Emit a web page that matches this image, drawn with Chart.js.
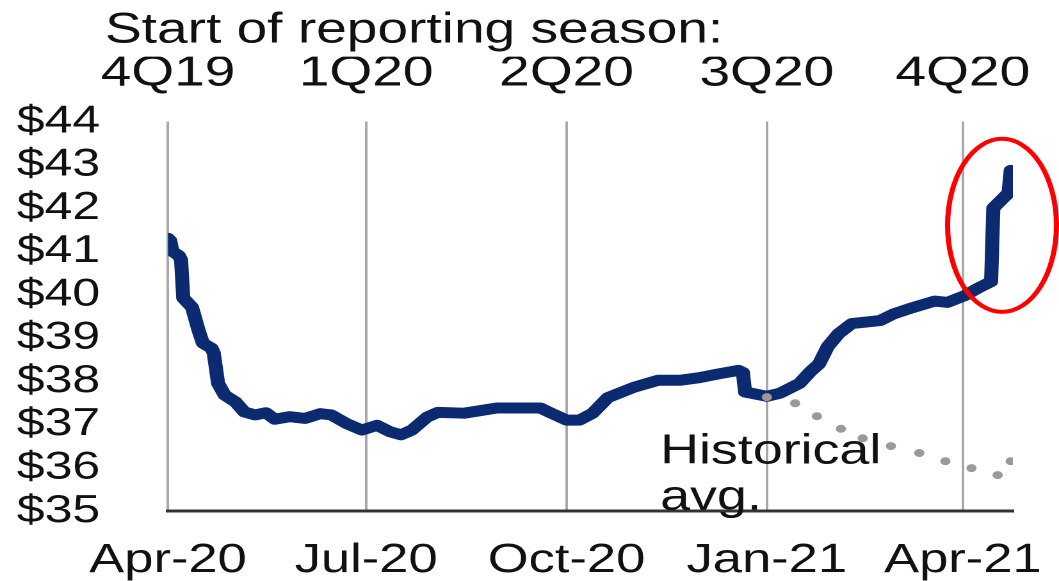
<!DOCTYPE html>
<html><head><meta charset="utf-8">
<script src="https://cdn.jsdelivr.net/npm/chart.js@4.4.1/dist/chart.umd.min.js"></script>
<style>html,body{margin:0;padding:0;background:#fff;overflow:hidden}
#c{position:absolute;left:0;top:0}</style>
</head><body>
<canvas id="c" width="827" height="581" style="width:1059px;height:581px"></canvas>
<script>
// ---- data ----
const epsDates = ['2020-04-01','2020-04-02','2020-04-03','2020-04-06','2020-04-07','2020-04-08','2020-04-12','2020-04-15','2020-04-17','2020-04-21','2020-04-22','2020-04-24','2020-04-27','2020-05-02','2020-05-06','2020-05-11','2020-05-16','2020-05-20','2020-05-27','2020-06-03','2020-06-10','2020-06-15','2020-06-22','2020-06-29','2020-07-06','2020-07-12','2020-07-17','2020-07-22','2020-07-29','2020-08-03','2020-08-15','2020-08-30','2020-09-19','2020-09-24','2020-10-01','2020-10-07','2020-10-13','2020-10-20','2020-11-01','2020-11-12','2020-11-22','2020-12-01','2020-12-10','2020-12-19','2020-12-21','2020-12-22','2021-01-01','2021-01-07','2021-01-16','2021-01-21','2021-01-25','2021-01-29','2021-02-03','2021-02-09','2021-02-22','2021-02-28','2021-03-09','2021-03-19','2021-03-25','2021-04-02','2021-04-08','2021-04-14','2021-04-15','2021-04-19','2021-04-22','2021-04-23'];
const epsValues = [41.3,41.25,41.0,40.9,40.8,39.92,39.71,39.18,38.88,38.76,38.65,37.95,37.68,37.52,37.29,37.22,37.27,37.12,37.18,37.14,37.25,37.22,37.02,36.87,36.98,36.83,36.76,36.87,37.17,37.28,37.26,37.38,37.38,37.26,37.1,37.1,37.26,37.62,37.86,38.02,38.02,38.08,38.17,38.25,38.2,37.75,37.65,37.72,37.95,38.22,38.4,38.8,39.1,39.33,39.4,39.55,39.7,39.85,39.82,39.98,40.15,40.3,42.0,42.2,42.35,42.87];
const histDates = ['2021-01-01','2021-01-14','2021-01-24','2021-02-04','2021-02-14','2021-02-27','2021-03-12','2021-03-24','2021-04-05','2021-04-17','2021-04-23'];
const histValues = [37.63,37.49,37.19,36.9,36.68,36.5,36.34,36.15,35.99,35.83,36.15];
const tickDates = ['2020-04-01','2020-07-01','2020-10-01','2021-01-01','2021-04-01'];
const tickLabels = ['Apr-20','Jul-20','Oct-20','Jan-21','Apr-21'];
const seasonLabels = ['4Q19','1Q20','2Q20','3Q20','4Q20'];
const titleText = 'Start of reporting season:';
const noteLines = ['Historical','avg.'];
const noteDate = '2020-11-13', noteValue = 36.1;
const highlightDate = '2021-04-19', highlightValue = 41.6, highlightDays = 25, highlightRange = 2.0;
const startDate = '2020-04-01', endDate = '2021-04-24';
const yMin = 35, yMax = 44;

const base = Date.parse(startDate + 'T00:00:00Z');
const dayOf = s => (Date.parse(s + 'T00:00:00Z') - base) / 864e5;

Chart.defaults.font.family = '"Liberation Sans", Arial, sans-serif';
Chart.defaults.color = '#111';

const notePlugin = {
  id: 'note',
  afterLayout(chart) {
    if (chart.titleBlock) { chart.titleBlock.left = 82; }
  },
  beforeDatasetsDraw(chart) {
    const {ctx, scales: {x, y}} = chart;
    ctx.save();
    ctx.font = '42px "Liberation Sans", Arial, sans-serif';
    ctx.fillStyle = '#111';
    ctx.textAlign = 'left';
    ctx.textBaseline = 'alphabetic';
    const px = x.getPixelForValue(dayOf(noteDate));
    const py = y.getPixelForValue(noteValue);
    noteLines.forEach((t, i) => ctx.fillText(t, px, py + i * 46));
    ctx.restore();
  },
  afterDraw(chart) {
    const {ctx, scales: {x, y}} = chart;
    const d = dayOf(highlightDate);
    const cx = x.getPixelForValue(d), cy = y.getPixelForValue(highlightValue);
    const rx = x.getPixelForValue(d + highlightDays) - cx;
    const ry = cy - y.getPixelForValue(highlightValue + highlightRange);
    ctx.save();
    ctx.strokeStyle = '#ff0000';
    ctx.lineWidth = 4;
    ctx.beginPath();
    ctx.ellipse(cx, cy, rx, ry, 0, 0, Math.PI * 2);
    ctx.stroke();
    ctx.restore();
  }
};

const setTicks = s => { s.ticks = tickDates.map(d => ({value: dayOf(d)})); };

new Chart(document.getElementById('c'), {
  type: 'line',
  data: {
    datasets: [
      {
        label: 'Historical avg.',
        data: histDates.map((d, i) => ({x: dayOf(d), y: histValues[i]})),
        showLine: false,
        pointRadius: 4,
        pointBorderWidth: 0,
        pointBackgroundColor: '#9a9a9a',
        order: 0
      },
      {
        label: 'EPS',
        data: epsDates.map((d, i) => ({x: dayOf(d), y: epsValues[i]})),
        borderColor: '#0c2a70',
        borderWidth: 11,
        pointRadius: 0,
        tension: 0,
        borderJoinStyle: 'round',
        borderCapStyle: 'round',
        order: 1
      }
    ]
  },
  options: {
    responsive: false,
    animation: false,
    devicePixelRatio: 2,
    layout: {padding: {left: 0, right: 36, top: 0, bottom: 0}},
    plugins: {
      legend: {display: false},
      tooltip: {enabled: false},
      title: {display: true, text: titleText, align: 'start', color: '#111',
        font: {size: 43, weight: 'normal'}, padding: {top: 5, bottom: 0}}
    },
    scales: {
      x: {
        type: 'linear', position: 'bottom', min: 0, max: dayOf(endDate),
        afterBuildTicks: setTicks,
        afterFit: s => { s.height = 70; s.paddingLeft = 0; s.paddingRight = 0; },
        ticks: {callback: (v, i) => tickLabels[i], font: {size: 41}, color: '#111', padding: 25, maxRotation: 0, autoSkip: false},
        grid: {display: true, color: '#a8a8a8', lineWidth: 2, drawTicks: false},
        border: {display: true, color: '#333', width: 3}
      },
      x2: {
        type: 'linear', position: 'top', min: 0, max: dayOf(endDate),
        afterBuildTicks: setTicks,
        afterFit: s => { s.height = 64.9; s.paddingLeft = 0; s.paddingRight = 0; },
        ticks: {callback: (v, i) => seasonLabels[i], font: {size: 43}, color: '#111', padding: 22, maxRotation: 0, autoSkip: false},
        grid: {display: false, drawTicks: false},
        border: {display: false}
      },
      y: {
        min: yMin, max: yMax,
        afterFit: s => { s.width = 131.2; s.paddingTop = 0; s.paddingBottom = 0; },
        ticks: {stepSize: 1, callback: v => '$' + v, font: {size: 39, lineHeight: 1}, color: '#111', padding: 53, autoSkip: false},
        grid: {display: false, drawTicks: false},
        border: {display: false}
      }
    }
  },
  plugins: [notePlugin]
});
</script>
</body></html>
